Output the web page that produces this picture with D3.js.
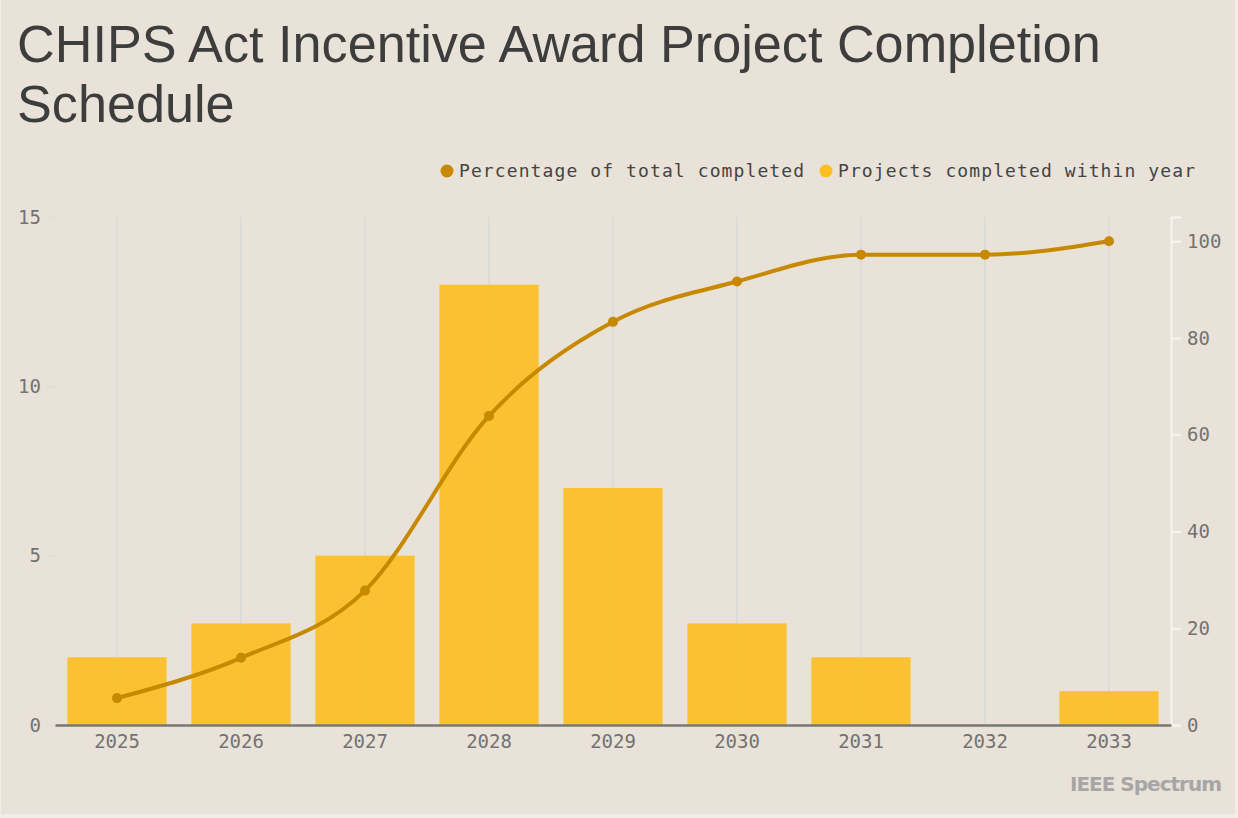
<!DOCTYPE html>
<html>
<head>
<meta charset="utf-8">
<script src="https://cdn.jsdelivr.net/npm/d3@7"></script>
<style>
  body { margin: 0; background: #f1ede7; }
  #chart { position: absolute; left: 1px; top: 0; }
</style>
</head>
<body>
<div id="chart"></div>
<script>
// data
var years = ['2025', '2026', '2027', '2028', '2029', '2030', '2031', '2032', '2033'];
var projects = [2, 3, 5, 13, 7, 3, 2, 0, 1];
var pctCompleted = [5.56, 13.89, 27.78, 63.89, 83.33, 91.67, 97.22, 97.22, 100];
var leftTicks = [0, 5, 10, 15];
var rightTicks = [0, 20, 40, 60, 80, 100];

var width = 1234, height = 814;
var margin = ({top: 217, right: 64, bottom: 89, left: 54});

var barColor = '#fcbf1e', lineColor = '#c68900';
var mono = "'DejaVu Sans Mono', monospace";

var svg = d3.select('#chart')
  .append('svg')
  .attr('width', width)
  .attr('height', height)
  .style('background', '#e9e2d8');

// title
svg.append('text')
  .attr('x', 16).attr('y', 62)
  .attr('fill', '#3d3d3d')
  .style('font-family', "'Liberation Sans', Arial, sans-serif")
  .style('font-size', '52.2px')
  .text('CHIPS Act Incentive Award Project Completion');
svg.append('text')
  .attr('x', 16).attr('y', 122)
  .attr('fill', '#3d3d3d')
  .style('font-family', "'Liberation Sans', Arial, sans-serif")
  .style('font-size', '52.2px')
  .text('Schedule');

// legend
var legend = [
  {label: 'Percentage of total completed', color: lineColor, x: 446},
  {label: 'Projects completed within year', color: barColor, x: 825}
];
var lg = svg.append('g').selectAll('g')
  .data(legend)
  .join('g')
  .attr('transform', d => 'translate(' + d.x + ',171)');
lg.append('circle').attr('r', 6.5).attr('fill', d => d.color);
lg.append('text')
  .attr('x', 12).attr('y', 6)
  .attr('fill', '#444')
  .style('font-family', mono)
  .style('font-size', '18px')
  .style('letter-spacing', '1.1px')
  .text(d => d.label);

// scales
var x = d3.scaleBand()
  .domain(years)
  .range([margin.left, width - margin.right])
  .paddingInner(0.2)
  .paddingOuter(0.1);

var y = d3.scaleLinear()
  .domain([0, 15])
  .range([height - margin.bottom, margin.top]);

var y2 = d3.scaleLinear()
  .domain([0, 105])
  .range([height - margin.bottom, margin.top]);

// vertical gridlines
svg.append('g')
  .selectAll('line')
  .data(years)
  .join('line')
  .attr('x1', d => x(d) + x.bandwidth() / 2)
  .attr('x2', d => x(d) + x.bandwidth() / 2)
  .attr('y1', margin.top)
  .attr('y2', height - margin.bottom)
  .attr('stroke', '#d9d9d6')
  .attr('stroke-width', 1.5);

// bars
svg.append('g')
  .selectAll('rect')
  .data(projects)
  .join('rect')
  .attr('x', (d, i) => x(years[i]))
  .attr('width', x.bandwidth())
  .attr('y', d => y(d))
  .attr('height', d => y(0) - y(d))
  .attr('fill', barColor)
  .attr('fill-opacity', 0.9);

// left axis
var leftAxis = svg.append('g')
  .attr('transform', 'translate(' + margin.left + ',0)')
  .call(d3.axisLeft(y).tickValues(leftTicks).tickSize(9).tickPadding(5));
leftAxis.select('.domain').remove();
leftAxis.selectAll('.tick line').attr('stroke', '#dcdcdc').attr('stroke-width', 1.5);
leftAxis.selectAll('.tick text')
  .attr('fill', '#737373')
  .style('font-family', mono)
  .style('font-size', '19px');

// right axis
var rightAxis = svg.append('g')
  .attr('transform', 'translate(' + (width - margin.right) + ',0)')
  .call(d3.axisRight(y2).tickValues(rightTicks).tickSize(10).tickPadding(6));
rightAxis.select('.domain').attr('stroke', '#f6f4f0').attr('stroke-width', 2);
rightAxis.selectAll('.tick line').attr('stroke', '#f6f4f0').attr('stroke-width', 2);
rightAxis.selectAll('.tick text')
  .attr('fill', '#737373')
  .style('font-family', mono)
  .style('font-size', '19px');

// bottom axis
var bottomAxis = svg.append('g')
  .attr('transform', 'translate(0,' + (height - margin.bottom) + ')')
  .call(d3.axisBottom(x).tickSize(0).tickPadding(10));
bottomAxis.select('.domain').attr('stroke', '#777').attr('stroke-width', 2.5);
bottomAxis.selectAll('.tick text')
  .attr('fill', '#737373')
  .style('font-family', mono)
  .style('font-size', '19px');

// cumulative line
var line = d3.line()
  .x((d, i) => x(years[i]) + x.bandwidth() / 2)
  .y(d => y2(d))
  .curve(d3.curveMonotoneX);

svg.append('path')
  .datum(pctCompleted)
  .attr('d', line)
  .attr('fill', 'none')
  .attr('stroke', lineColor)
  .attr('stroke-width', 4);

svg.append('g')
  .selectAll('circle')
  .data(pctCompleted)
  .join('circle')
  .attr('cx', (d, i) => x(years[i]) + x.bandwidth() / 2)
  .attr('cy', d => y2(d))
  .attr('r', 5)
  .attr('fill', lineColor);

// logo
svg.append('text')
  .attr('x', width - 14).attr('y', 791)
  .attr('text-anchor', 'end')
  .attr('fill', '#a6a6a6')
  .style('font-family', "'DejaVu Sans', sans-serif")
  .style('font-weight', 'bold')
  .style('font-size', '20px')
  .style('letter-spacing', '-1px')
  .text('IEEE Spectrum');
</script>
</body>
</html>
